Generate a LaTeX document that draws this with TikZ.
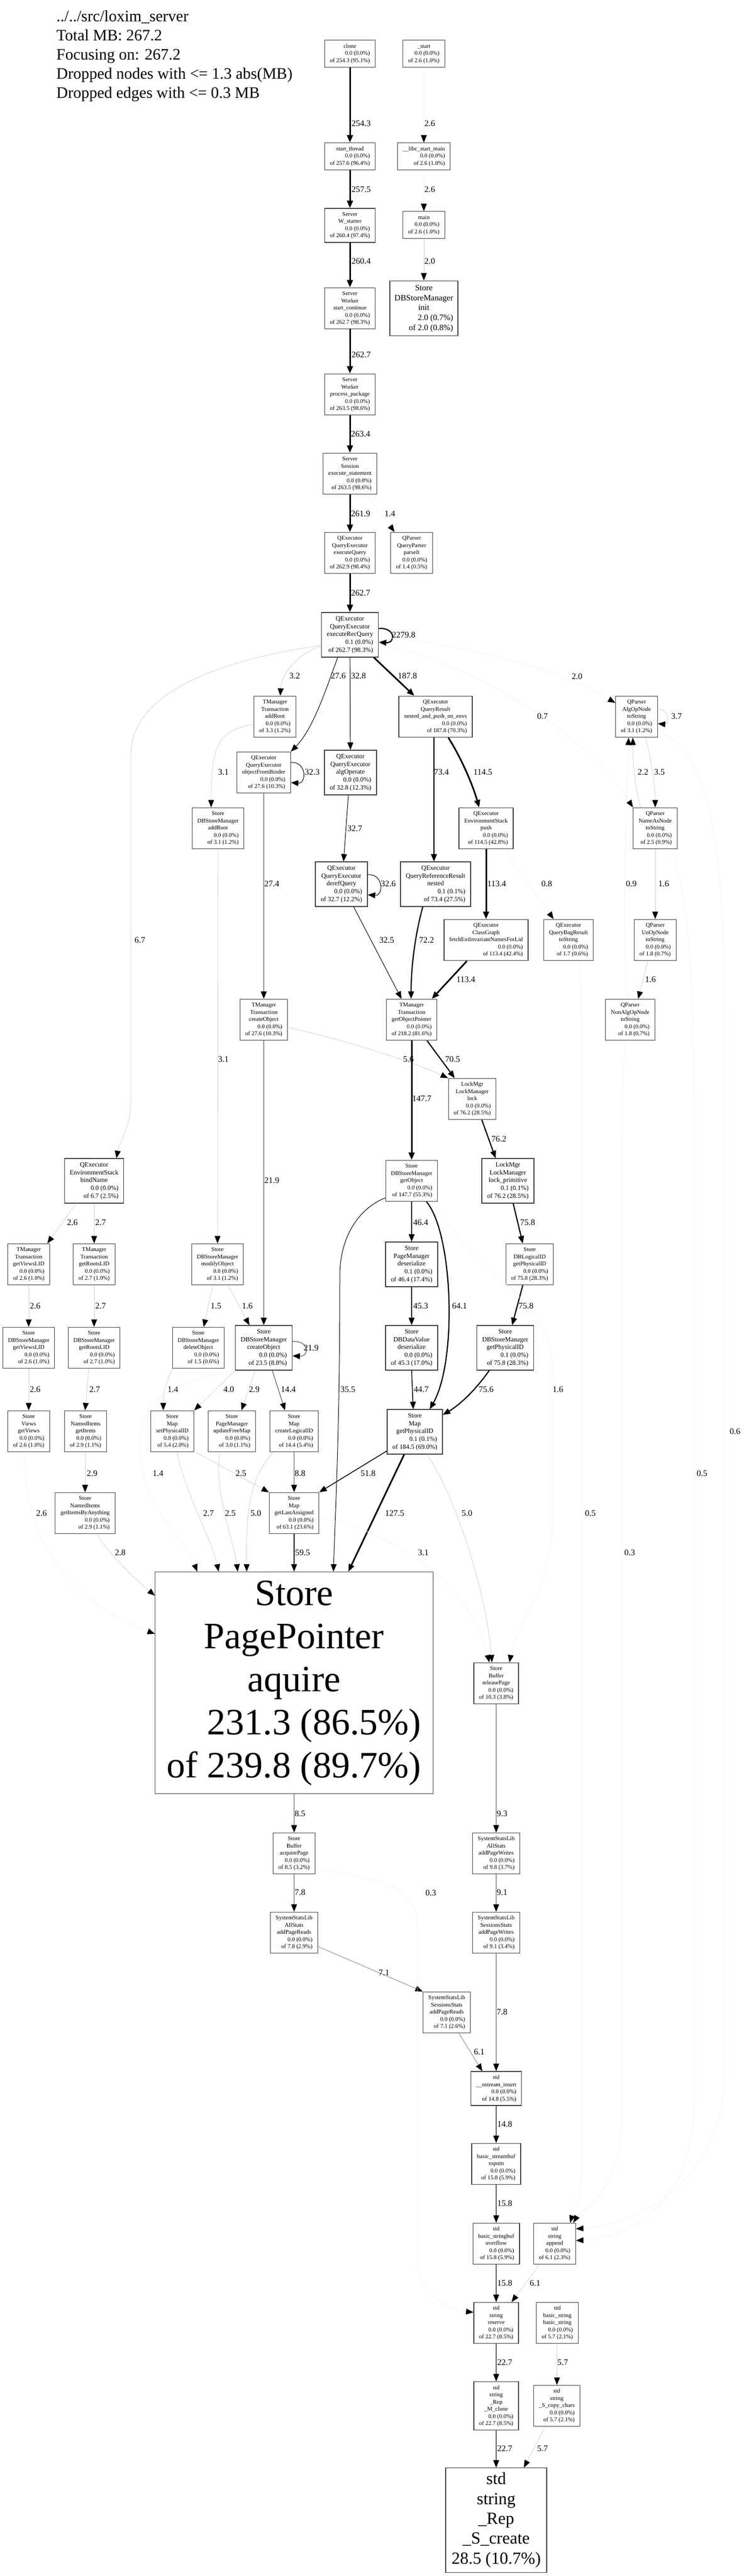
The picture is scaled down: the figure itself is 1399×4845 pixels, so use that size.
\documentclass[tikz,border=0pt]{standalone}
\usepackage{fontspec}
\setmainfont{Liberation Serif}
\usetikzlibrary{arrows.meta}
\newcommand{\fn}[3]{\begin{tabular}{@{}c@{}}#1\\\hfill #2\\\hfill #3\end{tabular}}

\begin{document}
\begin{tikzpicture}[x=1pt,y=-1pt,
  fnode/.style={draw=black!75,line width=1.2pt,fill=white,inner xsep=10pt,inner ysep=5pt,font=\fontsize{11}{13.5}\selectfont},
  fnodeb/.style={fnode,font=\fontsize{12.3}{14.8}\selectfont},
  fnodem/.style={fnode,inner xsep=9pt,font=\fontsize{15.6}{18.75}\selectfont},
  fnodel/.style={fnode,inner xsep=11pt,font=\fontsize{32}{37.3}\selectfont},
  fnodeh/.style={fnode,inner xsep=22pt,inner ysep=6pt,font=\fontsize{70}{81}\selectfont},
  lbl/.style={inner sep=0pt,font=\fontsize{16}{19}\selectfont},
  calltip/.style={-{Triangle[length=14pt,width=11pt,color=black]}},
  faintedge/.style={calltip,draw=black!5,line width=0.8pt},
  lightedge/.style={calltip,draw=black!18,line width=0.8pt},
  midedge/.style={calltip,draw=black!38,line width=1.2pt},
  darkedge/.style={calltip,draw=black!62,line width=1.2pt},
  greyedge/.style={calltip,draw=black!42,line width=2pt},
  blackedge/.style={calltip,draw=black,line width=1pt},
  mededge/.style={calltip,draw=black,line width=1.5pt},
  heavyedge/.style={calltip,draw=black,line width=2.2pt},
  boldedge/.style={calltip,draw=black,line width=3pt}]
\fill[white] (0,0) rectangle (1399,4845);
\useasboundingbox (0,0) rectangle (1399,4845);

\node[anchor=north west,align=left,inner sep=0pt,font=\fontsize{30}{36}\selectfont] (title) at (106,19) {../../src/loxim\_server\\Total MB: 267.2\\Focusing on: 267.2\\Dropped nodes with <= 1.3 abs(MB)\\Dropped edges with <= 0.3 MB};

% call chain
\node[fnode] (clone) at (658,101) {\fn{clone}{0.0 (0.0\%)}{of 254.3 (95.1\%)}};
\node[fnode] (start) at (797,101) {\fn{\_start}{0.0 (0.0\%)}{of 2.6 (1.0\%)}};
\node[fnode] (thread) at (658,294) {\fn{start\_thread}{0.0 (0.0\%)}{of 257.6 (96.4\%)}};
\node[fnode] (libc) at (797,294) {\fn{\_\_libc\_start\_main}{0.0 (0.0\%)}{of 2.6 (1.0\%)}};
\node[fnode] (wstarter) at (658,424) {\fn{Server\\W\_starter}{0.0 (0.0\%)}{of 260.4 (97.4\%)}};
\node[fnode] (main) at (797,423) {\fn{main}{0.0 (0.0\%)}{of 2.6 (1.0\%)}};
\node[fnodem] (dbinit) at (797,580) {\fn{Store\\DBStoreManager\\init}{2.0 (0.7\%)}{of 2.0 (0.8\%)}};
\node[fnode] (startcont) at (658,580) {\fn{Server\\Worker\\start\_continue}{0.0 (0.0\%)}{of 262.7 (98.3\%)}};
\node[fnode] (procpkg) at (658,742) {\fn{Server\\Worker\\process\_package}{0.0 (0.0\%)}{of 263.5 (98.6\%)}};
\node[fnode] (execstmt) at (658,891) {\fn{Server\\Session\\execute\_statement}{0.0 (0.0\%)}{of 263.5 (98.6\%)}};
\node[fnode] (execq) at (658,1040) {\fn{QExecutor\\QueryExecutor\\executeQuery}{0.0 (0.0\%)}{of 262.9 (98.4\%)}};
\node[fnode] (parseit) at (774,1040) {\fn{QParser\\QueryParser\\parseIt}{0.0 (0.0\%)}{of 1.4 (0.5\%)}};
\node[fnodeb] (recq) at (658,1194) {\fn{QExecutor\\QueryExecutor\\executeRecQuery}{0.1 (0.0\%)}{of 262.7 (98.3\%)}};

% query executor
\node[fnode] (taddroot) at (517,1348) {\fn{TManager\\Transaction\\addRoot}{0.0 (0.0\%)}{of 3.3 (1.2\%)}};
\node[fnode] (nested) at (819,1348) {\fn{QExecutor\\QueryResult\\nested\_and\_push\_on\_envs}{0.0 (0.0\%)}{of 187.8 (70.3\%)}};
\node[fnode] (algopnode) at (1197,1348) {\fn{QParser\\AlgOpNode\\toString}{0.0 (0.0\%)}{of 3.1 (1.2\%)}};
\node[fnode] (objbinder) at (496,1453) {\fn{QExecutor\\QueryExecutor\\objectFromBinder}{0.0 (0.0\%)}{of 27.6 (10.3\%)}};
\node[fnodeb] (algop) at (659,1453) {\fn{QExecutor\\QueryExecutor\\algOperate}{0.0 (0.0\%)}{of 32.8 (12.3\%)}};
\node[fnode] (saddroot) at (410,1558) {\fn{Store\\DBStoreManager\\addRoot}{0.0 (0.0\%)}{of 3.1 (1.2\%)}};
\node[fnode] (envpush) at (914,1558) {\fn{QExecutor\\EnvironmentStack\\push}{0.0 (0.0\%)}{of 114.5 (42.8\%)}};
\node[fnode] (nameas) at (1232,1558) {\fn{QParser\\NameAsNode\\toString}{0.0 (0.0\%)}{of 2.5 (0.9\%)}};
\node[fnodeb] (deref) at (642,1663) {\fn{QExecutor\\QueryExecutor\\derefQuery}{0.0 (0.0\%)}{of 32.7 (12.2\%)}};
\node[fnodeb] (refnested) at (819,1663) {\fn{QExecutor\\QueryReferenceResult\\nested}{0.1 (0.1\%)}{of 73.4 (27.5\%)}};
\node[fnode] (classgraph) at (914,1768) {\fn{QExecutor\\ClassGraph\\fetchExtInvariantNamesForLid}{0.0 (0.0\%)}{of 113.4 (42.4\%)}};
\node[fnode] (bagresult) at (1069,1768) {\fn{QExecutor\\QueryBagResult\\toString}{0.0 (0.0\%)}{of 1.7 (0.6\%)}};
\node[fnode] (unop) at (1232,1768) {\fn{QParser\\UnOpNode\\toString}{0.0 (0.0\%)}{of 1.8 (0.7\%)}};
\node[fnode] (nonalgop) at (1185,1918) {\fn{QParser\\NonAlgOpNode\\toString}{0.0 (0.0\%)}{of 1.8 (0.7\%)}};

% transactions and store
\node[fnode] (tcreate) at (496,1918) {\fn{TManager\\Transaction\\createObject}{0.0 (0.0\%)}{of 27.6 (10.3\%)}};
\node[fnode] (getobjptr) at (774,1918) {\fn{TManager\\Transaction\\getObjectPointer}{0.0 (0.0\%)}{of 218.2 (81.6\%)}};
\node[fnode] (lock) at (888,2067) {\fn{LockMgr\\LockManager\\lock}{0.0 (0.0\%)}{of 76.2 (28.5\%)}};
\node[fnodeb] (bindname) at (177,2221) {\fn{QExecutor\\EnvironmentStack\\bindName}{0.0 (0.0\%)}{of 6.7 (2.5\%)}};
\node[fnode] (getobj) at (774,2221) {\fn{Store\\DBStoreManager\\getObject}{0.0 (0.0\%)}{of 147.7 (55.3\%)}};
\node[fnodeb] (lockprim) at (955,2221) {\fn{LockMgr\\LockManager\\lock\_primitive}{0.1 (0.1\%)}{of 76.2 (28.5\%)}};
\node[fnode] (tviews) at (54,2378) {\fn{TManager\\Transaction\\getViewsLID}{0.0 (0.0\%)}{of 2.6 (1.0\%)}};
\node[fnode] (troots) at (177,2378) {\fn{TManager\\Transaction\\getRootsLID}{0.0 (0.0\%)}{of 2.7 (1.0\%)}};
\node[fnode] (modify) at (409,2378) {\fn{Store\\DBStoreManager\\modifyObject}{0.0 (0.0\%)}{of 3.1 (1.2\%)}};
\node[fnodeb] (pmdeser) at (774,2378) {\fn{Store\\PageManager\\deserialize}{0.1 (0.0\%)}{of 46.4 (17.4\%)}};
\node[fnode] (logicalid) at (996,2378) {\fn{Store\\DBLogicalID\\getPhysicalID}{0.0 (0.0\%)}{of 75.8 (28.3\%)}};
\node[fnode] (sviews) at (54,2535) {\fn{Store\\DBStoreManager\\getViewsLID}{0.0 (0.0\%)}{of 2.6 (1.0\%)}};
\node[fnode] (sroots) at (177,2535) {\fn{Store\\DBStoreManager\\getRootsLID}{0.0 (0.0\%)}{of 2.7 (1.0\%)}};
\node[fnode] (sdelete) at (373,2535) {\fn{Store\\DBStoreManager\\deleteObject}{0.0 (0.0\%)}{of 1.5 (0.6\%)}};
\node[fnodeb] (screate) at (496,2535) {\fn{Store\\DBStoreManager\\createObject}{0.0 (0.0\%)}{of 23.5 (8.8\%)}};
\node[fnodeb] (dvdeser) at (774,2535) {\fn{Store\\DBDataValue\\deserialize}{0.0 (0.0\%)}{of 45.3 (17.0\%)}};
\node[fnodeb] (dbphys) at (950,2535) {\fn{Store\\DBStoreManager\\getPhysicalID}{0.1 (0.0\%)}{of 75.8 (28.3\%)}};
\node[fnode] (views) at (54,2692) {\fn{Store\\Views\\getViews}{0.0 (0.0\%)}{of 2.6 (1.0\%)}};
\node[fnode] (items) at (161,2692) {\fn{Store\\NamedItems\\getItems}{0.0 (0.0\%)}{of 2.9 (1.1\%)}};
\node[fnode] (setphys) at (324,2692) {\fn{Store\\Map\\setPhysicalID}{0.0 (0.0\%)}{of 5.4 (2.0\%)}};
\node[fnode] (freemap) at (436,2692) {\fn{Store\\PageManager\\updateFreeMap}{0.0 (0.0\%)}{of 3.0 (1.1\%)}};
\node[fnode] (createlid) at (553,2692) {\fn{Store\\Map\\createLogicalID}{0.0 (0.0\%)}{of 14.4 (5.4\%)}};
\node[fnodeb] (mapphys) at (780,2693) {\fn{Store\\Map\\getPhysicalID}{0.1 (0.1\%)}{of 184.5 (69.0\%)}};
\node[fnode] (itemsany) at (160,2846) {\fn{Store\\NamedItems\\getItemsByAnything}{0.0 (0.0\%)}{of 2.9 (1.1\%)}};
\node[fnode] (lastassigned) at (553,2846) {\fn{Store\\Map\\getLastAssigned}{0.0 (0.0\%)}{of 63.1 (23.6\%)}};
\node[fnodeh] (aquire) at (553,3165) {\fn{Store\\PagePointer\\aquire}{231.3 (86.5\%)}{of 239.8 (89.7\%)}};
\node[fnode] (release) at (933,3166) {\fn{Store\\Buffer\\releasePage}{0.0 (0.0\%)}{of 10.3 (3.8\%)}};

% stats and strings
\node[fnode] (acqpage) at (553,3486) {\fn{Store\\Buffer\\acquirePage}{0.0 (0.0\%)}{of 8.5 (3.2\%)}};
\node[fnode] (apwrites) at (933,3486) {\fn{SystemStatsLib\\AllStats\\addPageWrites}{0.0 (0.0\%)}{of 9.8 (3.7\%)}};
\node[fnode] (areads) at (553,3635) {\fn{SystemStatsLib\\AllStats\\addPageReads}{0.0 (0.0\%)}{of 7.8 (2.9\%)}};
\node[fnode] (swrites) at (933,3635) {\fn{SystemStatsLib\\SessionsStats\\addPageWrites}{0.0 (0.0\%)}{of 9.1 (3.4\%)}};
\node[fnode] (sreads) at (840,3785) {\fn{SystemStatsLib\\SessionsStats\\addPageReads}{0.0 (0.0\%)}{of 7.1 (2.6\%)}};
\node[fnode] (ostream) at (933,3928) {\fn{std\\\_\_ostream\_insert}{0.0 (0.0\%)}{of 14.8 (5.5\%)}};
\node[fnode] (xsputn) at (933,4070) {\fn{std\\basic\_streambuf\\xsputn}{0.0 (0.0\%)}{of 15.8 (5.9\%)}};
\node[fnode] (overflow) at (933,4220) {\fn{std\\basic\_stringbuf\\overflow}{0.0 (0.0\%)}{of 15.8 (5.9\%)}};
\node[fnode] (append) at (1043,4220) {\fn{std\\string\\append}{0.0 (0.0\%)}{of 6.1 (2.3\%)}};
\node[fnode] (reserve) at (933,4369) {\fn{std\\string\\reserve}{0.0 (0.0\%)}{of 22.7 (8.5\%)}};
\node[fnode] (bstring) at (1048,4369) {\fn{std\\basic\_string\\basic\_string}{0.0 (0.0\%)}{of 5.7 (2.1\%)}};
\node[fnode] (mclone) at (933,4525) {\fn{std\\string\\\_Rep\\\_M\_clone}{0.0 (0.0\%)}{of 22.7 (8.5\%)}};
\node[fnode] (copychars) at (1047,4525) {\fn{std\\string\\\_S\_copy\_chars}{0.0 (0.0\%)}{of 5.7 (2.1\%)}};
\node[fnodel] (screate2) at (933,4740) {\begin{tabular}{@{}c@{}}std\\string\\\_Rep\\\_S\_create\\28.5 (10.7\%)\end{tabular}};

% edges of the chain
\draw[boldedge] (clone) -- (thread) node[lbl] (w1) at (679,232) {254.3};
\draw[faintedge] (start) -- (libc) node[lbl] (w2) at (808,232) {2.6};
\draw[boldedge] (thread) -- (wstarter) node[lbl] (w3) at (679,356) {257.5};
\draw[faintedge] (libc) -- (main) node[lbl] (w4) at (808,356) {2.6};
\draw[boldedge] (wstarter) -- (startcont) node[lbl] (w5) at (679,491) {260.4};
\draw[lightedge] (main) -- (dbinit) node[lbl] (w6) at (808,491) {2.0};
\draw[boldedge] (startcont) -- (procpkg) node[lbl] (w7) at (679,667) {262.7};
\draw[boldedge] (procpkg) -- (execstmt) node[lbl] (w8) at (678,816) {263.4};
\draw[boldedge] (execstmt) -- (execq) node[lbl] (w9) at (678,966) {261.9};
\draw[faintedge] (execstmt.south -| 690,0) -- (parseit.north -| 742,0) node[lbl] (w10) at (733,966) {1.4};
\draw[boldedge] (execq) -- (recq) node[lbl] (w11) at (678,1115) {262.7};
\draw[heavyedge] (recq.east |- 0,1182) .. controls +(32,-2) and +(32,2) .. (recq.east |- 0,1208) node[lbl] (w12) at (759,1194) {2279.8};

% edges of executeRecQuery
\draw[lightedge] (recq.west |- 0,1215) .. controls (570,1225) and (530,1260) .. (taddroot.north -| 527,0) node[lbl] (w13) at (554,1271) {3.2};
\draw[blackedge] (recq.south -| 635,0) .. controls (615,1290) and (590,1370) .. (objbinder.north east) node[lbl] (w14) at (636,1271) {27.6};
\draw[blackedge] (recq) -- (algop) node[lbl] (w15) at (674,1271) {32.8};
\draw[boldedge] (recq.south -| 703,0) -- (nested.north -| 779,0) node[lbl] (w16) at (766,1271) {187.8};
\draw[faintedge] (recq.east |- 0,1198) .. controls (900,1215) and (1050,1260) .. (algopnode.west |- 0,1322) node[lbl] (w17) at (1085,1272) {2.0};
\draw[faintedge] (recq.east |- 0,1212) .. controls (900,1250) and (1100,1380) .. (nameas.north west) node[lbl] (w18) at (1020,1347) {0.7};
\draw[lightedge] (recq.west |- 0,1214) .. controls (420,1240) and (246,1300) .. (246,1420) -- (246,2070) .. controls (246,2120) and (225,2145) .. (bindname.north -| 219,0) node[lbl] (w19) at (263,1768) {6.7};

% query executor edges
\draw[lightedge] (taddroot.west |- 0,1362) .. controls (410,1375) and (397,1400) .. (saddroot.north -| 397,0) node[lbl] (w20) at (420,1452) {3.1};
\draw[blackedge] (objbinder.east |- 0,1434) .. controls +(30,-2) and +(30,2) .. (objbinder.east |- 0,1472) node[lbl] (w21) at (587,1452) {32.3};
\draw[greyedge] (objbinder) -- (tcreate) node[lbl] (w22) at (511,1662) {27.4};
\draw[heavyedge] (nested.south -| 816,0) -- (refnested.north -| 816,0) node[lbl] (w23) at (830,1452) {73.4};
\draw[boldedge] (nested.south -| 843,0) .. controls (870,1430) and (890,1480) .. (envpush.north -| 901,0) node[lbl] (w24) at (908,1452) {114.5};
\draw[blackedge] (algop.south -| 655,0) -- (deref.north -| 646,0) node[lbl] (w25) at (667,1558) {32.7};
\draw[blackedge] (deref.east |- 0,1645) .. controls +(30,-2) and +(30,2) .. (deref.east |- 0,1683) node[lbl] (w26) at (730,1662) {32.6};
\draw[blackedge] (deref.south -| 665,0) -- (getobjptr.north -| 755,0) node[lbl] (w27) at (727,1768) {32.5};
\draw[heavyedge] (refnested.south -| 795,0) .. controls (780,1760) and (773,1820) .. (getobjptr.north -| 773,0) node[lbl] (w28) at (802,1768) {72.2};
\draw[boldedge] (envpush) -- (classgraph) node[lbl] (w29) at (934,1662) {113.4};
\draw[faintedge] (envpush.south -| 948,0) -- (bagresult.north -| 1041,0) node[lbl] (w30) at (1028,1662) {0.8};
\draw[boldedge] (classgraph.south -| 878,0) -- (getobjptr.north -| 812,0) node[lbl] (w31) at (876,1842) {113.4};

% parser edges
\draw[lightedge] (algopnode.east |- 0,1334) .. controls +(22,-2) and +(22,2) .. (algopnode.east |- 0,1361) node[lbl] (w32) at (1272,1347) {3.7};
\draw[lightedge] (algopnode.south -| 1214,0) .. controls (1225,1430) and (1232,1480) .. (nameas.north -| 1232,0) node[lbl] (w33) at (1240,1452) {3.5};
\draw[lightedge] (nameas.north -| 1205,0) .. controls (1193,1480) and (1190,1430) .. (algopnode.south -| 1190,0) node[lbl] (w34) at (1209,1452) {2.2};
\draw[faintedge] (nonalgop.north -| 1180,0) .. controls (1168,1750) and (1180,1450) .. (algopnode.south -| 1182,0) node[lbl] (w35) at (1187,1662) {0.9};
\draw[lightedge] (nameas) -- (unop) node[lbl] (w36) at (1248,1662) {1.6};
\draw[lightedge] (unop.south -| 1218,0) -- (nonalgop.north -| 1200,0) node[lbl] (w37) at (1223,1842) {1.6};

% transaction edges
\draw[greyedge] (tcreate) -- (screate) node[lbl] (w38) at (511,2220) {21.9};
\draw[lightedge] (tcreate.east |- 0,1932) .. controls (640,1955) and (760,1990) .. (lock.north west) node[lbl] (w39) at (768,1992) {5.6};
\draw[lightedge] (saddroot) -- (modify) node[lbl] (w40) at (420,1992) {3.1};
\draw[boldedge] (getobjptr) -- (getobj) node[lbl] (w41) at (793,2066) {147.7};
\draw[heavyedge] (getobjptr.south -| 803,0) -- (lock.north -| 855,0) node[lbl] (w42) at (851,1992) {70.5};
\draw[heavyedge] (lock.south -| 906,0) -- (lockprim.north -| 932,0) node[lbl] (w43) at (938,2142) {76.2};
\draw[lightedge] (bindname.south -| 143,0) -- (tviews.north -| 89,0) node[lbl] (w44) at (136,2299) {2.6};
\draw[lightedge] (bindname) -- (troots) node[lbl] (w45) at (189,2299) {2.7};
\draw[mededge] (getobj) -- (pmdeser) node[lbl] (w46) at (791,2299) {46.4};
\draw[heavyedge] (getobj.south -| 802,0) .. controls (852,2320) and (860,2560) .. (mapphys.north -| 808,0) node[lbl] (w47) at (864,2456) {64.1};
\draw[blackedge] (getobj.west |- 0,2253) .. controls (680,2270) and (639,2320) .. (639,2400) .. controls (639,2700) and (630,2850) .. (aquire.north -| 627,0) node[lbl] (w48) at (654,2613) {35.5};
\draw[heavyedge] (lockprim.south -| 965,0) -- (logicalid.north -| 983,0) node[lbl] (w49) at (992,2299) {75.8};
\draw[lightedge] (tviews) -- (sviews) node[lbl] (w50) at (66,2456) {2.6};
\draw[lightedge] (troots) -- (sroots) node[lbl] (w51) at (189,2456) {2.7};
\draw[lightedge] (modify.south -| 400,0) -- (sdelete.north -| 383,0) node[lbl] (w52) at (406,2456) {1.5};
\draw[lightedge] (modify.south -| 429,0) -- (screate.north -| 469,0) node[lbl] (w53) at (465,2456) {1.6};
\draw[mededge] (pmdeser) -- (dvdeser) node[lbl] (w54) at (791,2456) {45.3};
\draw[heavyedge] (logicalid.south -| 983,0) -- (dbphys.north -| 963,0) node[lbl] (w55) at (989,2456) {75.8};

% store edges
\draw[greyedge] (screate.east |- 0,2523) .. controls +(32,-2) and +(32,2) .. (screate.east |- 0,2550) node[lbl] (w56) at (585,2535) {21.9};
\draw[heavyedge] (dbphys.south -| 920,0) .. controls (890,2620) and (860,2645) .. (mapphys.east |- 0,2661) node[lbl] (w57) at (914,2613) {75.6};
\draw[mededge] (dvdeser.south -| 774,0) -- (mapphys.north -| 777,0) node[lbl] (w58) at (792,2613) {44.7};
\draw[faintedge] (getobj.south -| 812,0) .. controls (900,2400) and (1038,2450) .. (1038,2560) -- (1038,2870) .. controls (1038,2980) and (970,3060) .. (release.north -| 958,0) node[lbl] (w59) at (1049,2613) {1.6};
\draw[lightedge] (sviews) -- (views) node[lbl] (w60) at (66,2613) {2.6};
\draw[lightedge] (sroots.south -| 167,0) -- (items.north -| 160,0) node[lbl] (w61) at (178,2613) {2.7};
\draw[lightedge] (sdelete.south -| 326,0) .. controls (310,2600) and (307,2620) .. (setphys.north -| 307,0) node[lbl] (w62) at (325,2613) {1.4};
\draw[lightedge] (screate.south west) -- (setphys.north east) node[lbl] (w63) at (430,2613) {4.0};
\draw[lightedge] (screate.south -| 480,0) -- (freemap.north -| 454,0) node[lbl] (w64) at (478,2613) {2.9};
\draw[darkedge] (screate.south -| 512,0) -- (createlid.north -| 536,0) node[lbl] (w65) at (542,2613) {14.4};
\draw[faintedge] (screate.south west) .. controls (330,2600) and (265,2620) .. (263,2720) .. controls (263,2830) and (350,2900) .. (aquire.north -| 371,0) node[lbl] (w66) at (297,2771) {1.4};
\draw[faintedge] (views.south -| 47,0) .. controls (40,2950) and (200,3040) .. (aquire.west |- 0,3073) node[lbl] (w67) at (78,2846) {2.6};
\draw[lightedge] (items.south -| 160,0) -- (itemsany.north -| 160,0) node[lbl] (w68) at (173,2771) {2.9};
\draw[lightedge] (itemsany.south -| 182,0) .. controls (210,2930) and (260,2975) .. (aquire.west |- 0,3001) node[lbl] (w69) at (226,2920) {2.8};
\draw[lightedge] (setphys.south -| 333,0) .. controls (345,2800) and (400,2900) .. (aquire.north -| 411,0) node[lbl] (w70) at (392,2846) {2.7};
\draw[lightedge] (setphys.south -| 368,0) -- (lastassigned.north west) node[lbl] (w71) at (453,2771) {2.5};
\draw[lightedge] (freemap.south -| 414,0) .. controls (400,2800) and (440,2900) .. (aquire.north -| 447,0) node[lbl] (w72) at (433,2846) {2.5};
\draw[midedge] (createlid) -- (lastassigned) node[lbl] (w73) at (564,2771) {8.8};
\draw[lightedge] (createlid.south -| 514,0) .. controls (470,2780) and (462,2840) .. (aquire.north -| 464,0) node[lbl] (w74) at (481,2846) {5.0};
\draw[mededge] (mapphys.west |- 0,2729) -- (lastassigned.north east) node[lbl] (w75) at (692,2771) {51.8};
\draw[boldedge] (mapphys.south -| 760,0) -- (aquire.north -| 655,0) node[lbl] (w76) at (742,2846) {127.5};
\draw[lightedge] (mapphys.south -| 803,0) .. controls (860,2820) and (915,3000) .. (release.north -| 925,0) node[lbl] (w77) at (878,2846) {5.0};
\draw[faintedge] (lastassigned.east |- 0,2855) .. controls (750,2880) and (890,2990) .. (release.north -| 920,0) node[lbl] (w78) at (796,2920) {3.1};
\draw[mededge] (lastassigned) -- (aquire) node[lbl] (w79) at (569,2920) {59.5};

% lower edges
\draw[midedge] (aquire) -- (acqpage) node[lbl] (w80) at (564,3411) {8.5};
\draw[midedge] (acqpage) -- (areads) node[lbl] (w81) at (564,3559) {7.8};
\draw[midedge] (release) -- (apwrites) node[lbl] (w82) at (944,3411) {9.3};
\draw[midedge] (apwrites) -- (swrites) node[lbl] (w83) at (944,3559) {9.1};
\draw[midedge] (areads.east |- 0,3661) -- (sreads.north west) node[lbl] (w84) at (722,3710) {7.1};
\draw[midedge] (swrites) -- (ostream) node[lbl] (w85) at (944,3784) {7.8};
\draw[midedge] (sreads.south -| 863,0) -- (ostream.north -| 907,0) node[lbl] (w86) at (901,3859) {6.1};
\draw[darkedge] (ostream) -- (xsputn) node[lbl] (w87) at (949,3995) {14.8};
\draw[darkedge] (xsputn) -- (overflow) node[lbl] (w88) at (949,4144) {15.8};
\draw[darkedge] (overflow) -- (reserve) node[lbl] (w89) at (949,4294) {15.8};
\draw[lightedge] (append.south -| 1014,0) -- (reserve.north -| 962,0) node[lbl] (w90) at (1006,4294) {6.1};
\draw[darkedge] (reserve) -- (mclone) node[lbl] (w91) at (949,4443) {22.7};
\draw[lightedge] (bstring) -- (copychars) node[lbl] (w92) at (1058,4443) {5.7};
\draw[darkedge] (mclone) -- (screate2) node[lbl] (w93) at (949,4605) {22.7};
\draw[lightedge] (copychars.south -| 1025,0) -- (screate2.north -| 985,0) node[lbl] (w94) at (1020,4605) {5.7};

% faint edges on the right
\draw[faintedge] (algopnode.east |- 0,1375) .. controls (1362,1420) and (1362,1700) .. (1362,2000) -- (1362,3900) .. controls (1362,4100) and (1200,4185) .. (append.east |- 0,4192) node[lbl] (w95) at (1382,2692) {0.6};
\draw[faintedge] (nameas.south -| 1263,0) .. controls (1300,1700) and (1305,1900) .. (1305,2100) -- (1305,3950) .. controls (1305,4150) and (1180,4210) .. (append.east |- 0,4214) node[lbl] (w96) at (1320,2771) {0.5};
\draw[faintedge] (bagresult.south -| 1090,0) .. controls (1094,1880) and (1094,1950) .. (1094,2050) -- (1094,4080) .. controls (1094,4130) and (1078,4160) .. (append.north -| 1072,0) node[lbl] (w97) at (1110,2846) {0.5};
\draw[faintedge] (nonalgop.south -| 1175,0) .. controls (1170,2050) and (1168,2150) .. (1168,2250) -- (1168,4000) .. controls (1168,4120) and (1090,4160) .. (append.north -| 1078,0) node[lbl] (w98) at (1184,2920) {0.3};
\draw[faintedge] (acqpage.east |- 0,3515) .. controls (700,3530) and (785,3545) .. (785,3620) -- (785,4250) .. controls (785,4320) and (850,4345) .. (reserve.west |- 0,4349) node[lbl] (w99) at (810,3560) {0.3};
\end{tikzpicture}
\end{document}
